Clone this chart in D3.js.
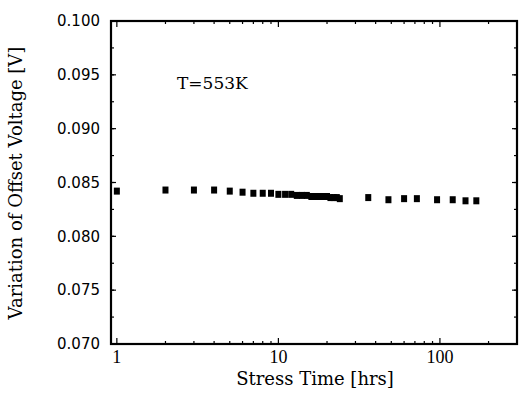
<!DOCTYPE html>
<html lang="en">
<head>
  <meta charset="UTF-8">
  <title>Offset Voltage vs Stress Time</title>
  <script src="https://d3js.org/d3.v7.min.js"></script>
  <style>
    body { margin: 0; background: #fff; }
    svg { display: block; }
    .ylab text { font-family: "DejaVu Sans", sans-serif; font-size: 15px; }
    .xlab text { font-family: "Liberation Serif", serif; font-size: 18px; }
    .axis-title { font-family: "DejaVu Serif", serif; font-size: 18px; }
    .note { font-family: "DejaVu Serif", serif; font-size: 17px; }
  </style>
</head>
<body>
  <svg width="525" height="399"></svg>

  <script>
    // stress time in hours, offset voltage variation in volts
    const stressHours = [1, 2, 3, 4, 5, 6, 7, 8, 9, 10, 11, 12, 13, 14, 15, 16, 17, 18, 19, 20, 21, 22, 23, 24,
                         36, 48, 60, 72, 96, 120, 144, 168];
    const offsetVolts = [0.0842, 0.0843, 0.0843, 0.0843, 0.0842, 0.0841, 0.0840, 0.0840, 0.0840, 0.0839,
                         0.0839, 0.0839, 0.0838, 0.0838, 0.0838, 0.0837, 0.0837, 0.0837, 0.0837, 0.0837,
                         0.0836, 0.0836, 0.0836, 0.0835,
                         0.0836, 0.0834, 0.0835, 0.0835, 0.0834, 0.0834, 0.0833, 0.0833];
    const yTicks = [0.070, 0.075, 0.080, 0.085, 0.090, 0.095, 0.100];
    const xTicks = [1, 10, 100];

    const margin = { top: 21, right: 8, bottom: 55, left: 111 };
    const width = 525;
    const height = 399;

    const svg = d3.select("svg");

    const xScale = d3.scaleLog().domain([0.92, 300]).range([margin.left, width - margin.right]);
    const yScale = d3.scaleLinear().domain([0.070, 0.100]).range([height - margin.bottom, margin.top]);

    const x0 = margin.left, x1 = width - margin.right;
    const y0 = height - margin.bottom, y1 = margin.top;

    // minor ticks: 2..9 in each decade, and every 0.0025 in y
    const xMinor = [];
    [1, 10, 100].forEach(d => { for (let k = 2; k <= 9; k++) if (d * k <= 300) xMinor.push(d * k); });
    const yMinor = d3.range(0, 13).map(i => 0.070 + i * 0.0025);

    const ticks = svg.append("g").attr("stroke", "#000").attr("stroke-width", 1.2);

    // bottom + top x ticks (inward)
    [[y0, -1], [y1, 1]].forEach(([yy, dir]) => {
      ticks.selectAll(null).data(xMinor).enter().append("line")
        .attr("x1", d => xScale(d)).attr("x2", d => xScale(d))
        .attr("y1", yy).attr("y2", yy + dir * 3);
      ticks.selectAll(null).data(xTicks).enter().append("line")
        .attr("x1", d => xScale(d)).attr("x2", d => xScale(d))
        .attr("y1", yy).attr("y2", yy + dir * 6);
    });

    // left + right y ticks (inward)
    [[x0, 1], [x1, -1]].forEach(([xx, dir]) => {
      ticks.selectAll(null).data(yMinor).enter().append("line")
        .attr("x1", xx).attr("x2", xx + dir * 3)
        .attr("y1", d => yScale(d)).attr("y2", d => yScale(d));
      ticks.selectAll(null).data(yTicks).enter().append("line")
        .attr("x1", xx).attr("x2", xx + dir * 5)
        .attr("y1", d => yScale(d)).attr("y2", d => yScale(d));
    });

    // frame
    svg.append("rect")
      .attr("x", x0).attr("y", y1)
      .attr("width", x1 - x0).attr("height", y0 - y1)
      .attr("fill", "none").attr("stroke", "#000").attr("stroke-width", 2.2);

    // y tick labels
    svg.append("g").attr("class", "ylab")
      .selectAll("text").data(yTicks).enter().append("text")
      .attr("x", 100)
      .attr("y", d => yScale(d))
      .attr("dy", "0.35em")
      .attr("text-anchor", "end")
      .text(d => d3.format(".3f")(d));

    // x tick labels
    svg.append("g").attr("class", "xlab")
      .selectAll("text").data(xTicks).enter().append("text")
      .attr("x", d => xScale(d))
      .attr("y", 363)
      .attr("text-anchor", "middle")
      .text(d => d);

    // axis titles
    svg.append("text")
      .attr("class", "axis-title")
      .attr("x", 315).attr("y", 385)
      .attr("text-anchor", "middle")
      .text("Stress Time [hrs]");

    svg.append("text")
      .attr("class", "axis-title")
      .attr("transform", "rotate(-90)")
      .attr("x", -183).attr("y", 22)
      .attr("text-anchor", "middle")
      .text("Variation of Offset Voltage [V]");

    svg.append("text")
      .attr("class", "note")
      .attr("x", 177).attr("y", 89)
      .text("T=553K");

    // data squares
    const data = stressHours.map((t, i) => ({ t: t, v: offsetVolts[i] }));
    svg.append("g")
      .selectAll("rect").data(data).enter().append("rect")
      .attr("x", d => xScale(d.t) - 3)
      .attr("y", d => yScale(d.v) - 3.5)
      .attr("width", 6)
      .attr("height", 7)
      .attr("fill", "#000");
  </script>
</body>
</html>
